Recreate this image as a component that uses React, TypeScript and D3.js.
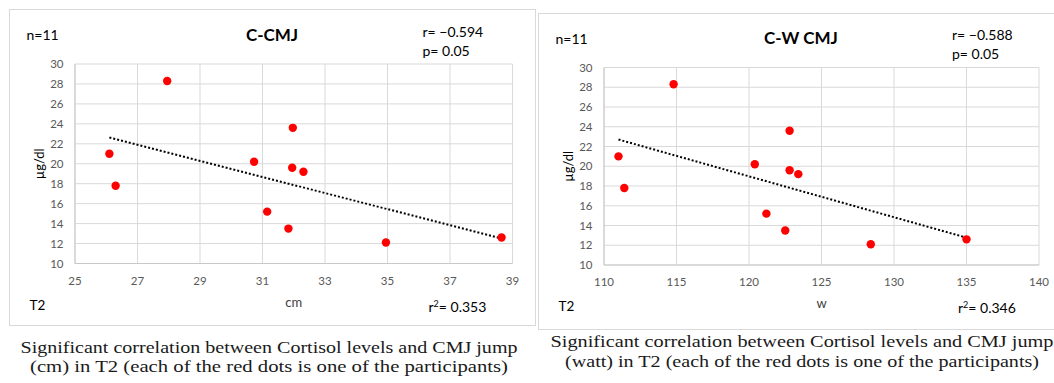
import { useEffect, useRef } from 'react'
import * as d3 from 'd3'

// cortisol (µg/dl) of the 11 participants at T2, same order in both panels
const cortisol = [21.0, 17.8, 28.3, 20.2, 23.6, 19.6, 19.2, 15.2, 13.5, 12.1, 12.6]
const jumpCm = [26.1, 26.3, 27.95, 30.73, 31.97, 31.95, 32.31, 31.15, 31.83, 34.95, 38.65]
const jumpWatt = [111.0, 111.4, 114.8, 120.4, 122.8, 122.8, 123.4, 121.2, 122.5, 128.4, 135.0]

const cortisolTicks = [10, 12, 14, 16, 18, 20, 22, 24, 26, 28, 30]
const cmTicks = [25, 27, 29, 31, 33, 35, 37, 39]
const wattTicks = [110, 115, 120, 125, 130, 135, 140]

const titles = ['C-CMJ', 'C-W CMJ']
const xLabels = ['cm', 'w']
const rValues = ['r= \u22120.594', 'r= \u22120.588']
const pValues = ['p= 0.05', 'p= 0.05']
const r2Values = ['0.353', '0.346']
const captions = [
  ['Significant correlation between Cortisol levels and CMJ jump', '(cm) in T2 (each of the red dots is one of the participants)'],
  ['Significant correlation between Cortisol levels and CMJ jump', '(watt) in T2 (each of the red dots is one of the participants)'],
]

interface Layout {
  box: [number, number, number, number]
  plot: { l: number; r: number; t: number; b: number }
  nY: number
  titleX: number
  titleY: number
  rX: number
  rY: number
  tX: number
  tY: number
  r2X: number
  r2Y: number
  capX: number
  capY: [number, number]
  capW: [number, number]
}

const layouts: Layout[] = [
  {
    box: [9.5, 9.5, 526, 316],
    plot: { l: 75, r: 512.5, t: 64, b: 263.5 },
    nY: 40, titleX: 272, titleY: 41, rX: 422.5, rY: 36.5,
    tX: 29.5, tY: 310, r2X: 428.5, r2Y: 312,
    capX: 269, capY: [352.5, 371.5], capW: [497, 478],
  },
  {
    box: [538.5, 13.5, 522, 316],
    plot: { l: 604, r: 1039, t: 67.5, b: 265 },
    nY: 43.5, titleX: 801, titleY: 44, rX: 952, rY: 40,
    tX: 558.5, tY: 311, r2X: 958, r2Y: 313,
    capX: 802, capY: [347, 367], capW: [503, 474],
  },
]

const FONT = 'Lato, "Liberation Sans", sans-serif'

function drawPanel(
  svg: d3.Selection<SVGSVGElement, unknown, null, undefined>,
  i: number,
  xs: number[],
  xTicks: number[],
) {
  const lay = layouts[i]
  const { l, r, t, b } = lay.plot
  const g = svg.append('g')

  // panel frame
  g.append('rect')
    .attr('x', lay.box[0]).attr('y', lay.box[1])
    .attr('width', lay.box[2]).attr('height', lay.box[3])
    .attr('fill', 'white').attr('stroke', '#d9d9d9')

  const x = d3.scaleLinear().domain([xTicks[0], xTicks[xTicks.length - 1]]).range([l, r])
  const y = d3.scaleLinear().domain([10, 30]).range([b, t])

  // grid
  g.selectAll('.hgrid').data(cortisolTicks).join('line')
    .attr('x1', l).attr('x2', r)
    .attr('y1', d => y(d)).attr('y2', d => y(d))
    .attr('stroke', '#d9d9d9')
  g.selectAll('.vgrid').data(xTicks).join('line')
    .attr('x1', d => x(d)).attr('x2', d => x(d))
    .attr('y1', t).attr('y2', b)
    .attr('stroke', '#d9d9d9')
  g.append('line').attr('x1', l).attr('x2', r).attr('y1', b).attr('y2', b).attr('stroke', '#c8c8c8')
  g.append('line').attr('x1', l).attr('x2', l).attr('y1', t).attr('y2', b).attr('stroke', '#c8c8c8')

  // tick labels
  g.selectAll('.ytl').data(cortisolTicks).join('text')
    .attr('x', l - 11.5).attr('y', d => y(d) + 4)
    .attr('text-anchor', 'end')
    .style('font-family', FONT).style('font-size', '11.5px').style('fill', '#595959')
    .text(d => String(d))
  g.selectAll('.xtl').data(xTicks).join('text')
    .attr('x', d => x(d)).attr('y', b + 21)
    .attr('text-anchor', 'middle')
    .style('font-family', FONT).style('font-size', '11.5px').style('fill', '#595959')
    .text(d => String(d))

  // linear trendline (least squares) over the data range
  const mx = d3.mean(xs) as number
  const my = d3.mean(cortisol) as number
  const sxy = d3.sum(xs, (v, k) => (v - mx) * (cortisol[k] - my))
  const sxx = d3.sum(xs, v => (v - mx) * (v - mx))
  const slope = sxy / sxx
  const ends = d3.extent(xs) as [number, number]
  const line = d3.line<number>().x(v => x(v)).y(v => y(my + slope * (v - mx)))
  g.append('path')
    .datum(ends)
    .attr('d', line)
    .attr('fill', 'none')
    .attr('stroke', '#000')
    .attr('stroke-width', 2)
    .attr('stroke-dasharray', '2 2')

  // points
  g.selectAll('.dot').data(xs).join('circle')
    .attr('cx', v => x(v))
    .attr('cy', (_, k) => y(cortisol[k]))
    .attr('r', 4.2)
    .attr('fill', '#ff0000')

  const txt = (px: number, py: number, s: string, size: number, anchor = 'start', color = '#000') =>
    g.append('text')
      .attr('x', px).attr('y', py)
      .attr('text-anchor', anchor)
      .style('font-family', FONT).style('font-size', `${size}px`).style('fill', color)
      .text(s)

  txt(lay.box[0] + 17, lay.nY, `n=${cortisol.length}`, 14)
  txt(lay.titleX, lay.titleY, titles[i], 17, 'middle').style('font-weight', 'bold')
  txt(lay.rX, lay.rY, rValues[i], 14)
  txt(lay.rX, lay.rY + 19, pValues[i], 14)
  txt((l + r) / 2, b + 43, xLabels[i], 13, 'middle', '#404040')
  txt(lay.tX, lay.tY, 'T2', 13.5)

  const r2 = g.append('text')
    .attr('x', lay.r2X).attr('y', lay.r2Y)
    .style('font-family', FONT).style('font-size', '14px').style('fill', '#000')
  r2.append('tspan').text('r')
  r2.append('tspan').attr('dy', -5).style('font-size', '9px').text('2')
  r2.append('tspan').attr('dy', 5).text(`= ${r2Values[i]}`)

  // y axis title
  g.append('text')
    .attr('transform', `translate(${l - 31},${(t + b) / 2}) rotate(-90)`)
    .attr('text-anchor', 'middle')
    .style('font-family', FONT).style('font-size', '13px').style('fill', '#000')
    .text('\u00b5g/dl')

  // caption below the panel
  captions[i].forEach((c, k) => {
    svg.append('text')
      .attr('x', lay.capX).attr('y', lay.capY[k])
      .attr('text-anchor', 'middle')
      .attr('textLength', lay.capW[k])
      .attr('lengthAdjust', 'spacingAndGlyphs')
      .style('font-family', '"Liberation Serif", "DejaVu Serif", serif')
      .style('font-size', '17px').style('fill', '#1a1a1a')
      .text(c)
  })
}

export default function App() {
  const svgRef = useRef<SVGSVGElement>(null)

  useEffect(() => {
    if (!svgRef.current) return
    const svg = d3.select(svgRef.current)
    svg.selectAll('*').remove()
    svg.append('rect').attr('width', 1054).attr('height', 383).attr('fill', 'white')
    drawPanel(svg, 0, jumpCm, cmTicks)
    drawPanel(svg, 1, jumpWatt, wattTicks)
  }, [])

  return (
    <svg
      ref={svgRef}
      width={1054}
      height={383}
      viewBox="0 0 1054 383"
      style={{ position: 'absolute', left: 0, top: 0, display: 'block' }}
    />
  )
}
